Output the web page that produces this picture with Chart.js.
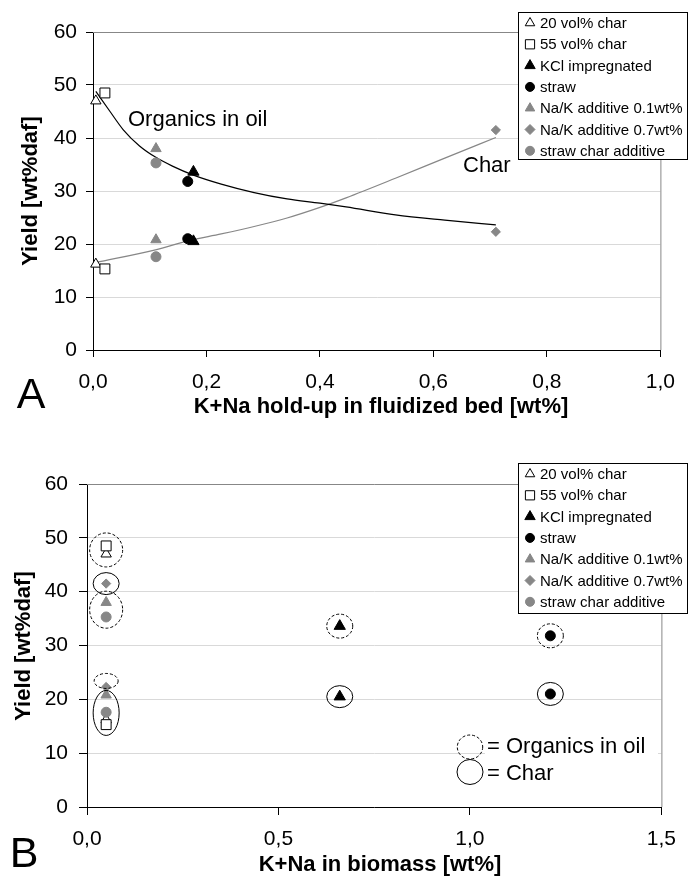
<!DOCTYPE html>
<html>
<head>
<meta charset="utf-8">
<script src="https://cdn.jsdelivr.net/npm/chart.js@4.4.0/dist/chart.umd.min.js"></script>
<style>
  html, body { margin: 0; padding: 0; background: #fff; }
  #wrap { position: relative; width: 688px; height: 879px; }
  #panelA { position: absolute; left: 0; top: 0; }
  #panelB { position: absolute; left: 0; top: 430px; }
</style>
</head>
<body>
<div id="wrap">
  <canvas id="panelA" width="688" height="430"></canvas>
  <canvas id="panelB" width="688" height="449"></canvas>
</div>
<script>
// experiment series (legend order)
const seriesNames = ['20 vol% char', '55 vol% char', 'KCl impregnated', 'straw',
  'Na/K additive 0.1wt%', 'Na/K additive 0.7wt%', 'straw char additive'];
// K+Na hold-up in the fluidized bed [wt%]
const holdUp = [0.005, 0.021, 0.177, 0.167, 0.111, 0.71, 0.111];
// K+Na in the biomass [wt%]
const biomassKNa = [0.05, 0.05, 0.66, 1.21, 0.05, 0.05, 0.05];
// yields [wt% daf]
const organicsYield = [47.0, 48.5, 33.6, 31.8, 38.0, 22.3, 35.3];
const charYield = [16.2, 15.3, 20.5, 21.0, 20.8, 41.5, 17.6];

// trend lines of panel A
const organicsFitX = [0.005, 0.03, 0.053, 0.082, 0.11, 0.14, 0.177, 0.226, 0.284, 0.342, 0.40, 0.446, 0.533, 0.62, 0.71];
const organicsFitY = [48.8, 45.0, 41.6, 38.5, 36.4, 34.7, 33.0, 31.3, 29.7, 28.5, 27.7, 27.0, 25.5, 24.5, 23.6];
const charFitX = [0.005, 0.11, 0.168, 0.226, 0.284, 0.342, 0.40, 0.446, 0.533, 0.62, 0.71];
const charFitY = [16.5, 18.9, 20.6, 21.9, 23.3, 24.9, 26.9, 28.7, 32.4, 36.2, 40.1];

// tick values
const xTicksA = [0, 0.2, 0.4, 0.6, 0.8, 1.0];
const xTicksB = [0, 0.5, 1.0, 1.5];
const yTicks = [0, 10, 20, 30, 40, 50, 60];

const FONT = '"Liberation Sans", Arial, Helvetica, sans-serif';
const GREY = '#878787';

const markerStyles = [
  { pointStyle: 'triangle', radius: 6, fill: '#fff', stroke: '#000' },
  { pointStyle: 'rect', radius: 7, fill: '#fff', stroke: '#000' },
  { pointStyle: 'triangle', radius: 6.5, fill: '#000', stroke: '#000' },
  { pointStyle: 'circle', radius: 5, fill: '#000', stroke: '#000' },
  { pointStyle: 'triangle', radius: 6, fill: GREY, stroke: GREY },
  { pointStyle: 'rectRot', radius: 4.6, fill: GREY, stroke: GREY },
  { pointStyle: 'circle', radius: 5, fill: GREY, stroke: GREY }
];

// rings in panel B, drawn around groups of points (series indices)
const ringsB = [
  { members: [0, 1], which: 'organics', rx: 16.5, ry: 17, dashed: true },
  { members: [4, 6], which: 'organics', rx: 16.5, ry: 18.5, dashed: true },
  { members: [5], which: 'organics', rx: 12, ry: 7.5, dashed: true, dy: -6 },
  { members: [2], which: 'organics', rx: 13, ry: 12, dashed: true },
  { members: [3], which: 'organics', rx: 13, ry: 12, dashed: true },
  { members: [5], which: 'char', rx: 13, ry: 11, dashed: false },
  { members: [0, 1, 4, 6], which: 'char', rx: 13, ry: 22.5, dashed: false },
  { members: [2], which: 'char', rx: 13, ry: 11, dashed: false },
  { members: [3], which: 'char', rx: 13, ry: 11.5, dashed: false }
];

function comma(v) { return v.toFixed(1).replace('.', ','); }

function markerSets(xs) {
  return seriesNames.map((name, i) => ({
    label: name,
    data: [{ x: xs[i], y: organicsYield[i] }, { x: xs[i], y: charYield[i] }],
    pointStyle: markerStyles[i].pointStyle,
    pointRadius: markerStyles[i].radius,
    pointHoverRadius: markerStyles[i].radius,
    backgroundColor: markerStyles[i].fill,
    borderColor: markerStyles[i].stroke,
    borderWidth: 1,
    showLine: false,
    clip: false,
    order: 10 - i
  }));
}

function fitSet(xs, ys, color, width) {
  return {
    label: '',
    data: xs.map((x, i) => ({ x: x, y: ys[i] })),
    showLine: true,
    pointRadius: 0,
    borderColor: color,
    borderWidth: width,
    cubicInterpolationMode: 'monotone',
    fill: false,
    clip: false,
    order: 100
  };
}

// frame, legend box, titles and notes around each panel
const decor = {
  id: 'decor',
  beforeDatasetsDraw(chart, args, o) {
    const a = chart.chartArea, ctx = chart.ctx;
    ctx.save();
    ctx.strokeStyle = GREY;
    ctx.lineWidth = 1;
    ctx.beginPath();
    ctx.moveTo(a.left, a.top + 0.5);
    ctx.lineTo(a.right + 0.5, a.top + 0.5);
    ctx.lineTo(a.right + 0.5, a.bottom);
    ctx.stroke();
    ctx.restore();
  },
  afterDatasetsDraw(chart, args, o) {
    const ctx = chart.ctx;
    const xs = chart.scales.x, ys = chart.scales.y;
    ctx.save();
    ctx.strokeStyle = '#000';
    ctx.lineWidth = 1;
    (o.rings || []).forEach(r => {
      const vals = r.members.map(i => r.which === 'organics' ? organicsYield[i] : charYield[i]);
      const mx = r.members.reduce((s, i) => s + o.xs[i], 0) / r.members.length;
      const my = vals.reduce((s, v) => s + v, 0) / vals.length;
      ctx.setLineDash(r.dashed ? [3, 2] : []);
      ctx.beginPath();
      ctx.ellipse(xs.getPixelForValue(mx), ys.getPixelForValue(my) + (r.dy || 0), r.rx, r.ry, 0, 0, Math.PI * 2);
      ctx.stroke();
    });
    ctx.restore();
  },
  afterDraw(chart, args, o) {
    const ctx = chart.ctx;
    ctx.save();
    ctx.fillStyle = '#000';

    // panel letter
    ctx.font = '43px ' + FONT;
    ctx.textAlign = 'center';
    ctx.textBaseline = 'alphabetic';
    ctx.fillText(o.letter, o.letterPos[0], o.letterPos[1]);

    // axis titles
    ctx.font = 'bold 22px ' + FONT;
    ctx.fillText(o.xTitle, o.xTitlePos[0], o.xTitlePos[1]);
    ctx.save();
    ctx.translate(o.yTitlePos[0], o.yTitlePos[1]);
    ctx.rotate(-Math.PI / 2);
    ctx.fillText('Yield [wt%daf]', 0, 0);
    ctx.restore();

    // notes in the plot
    ctx.font = '22px ' + FONT;
    ctx.textAlign = 'left';
    (o.notes || []).forEach(n => {
      if (n.clear) {
        ctx.fillStyle = '#fff';
        ctx.fillRect(n.clear[0], n.clear[1], n.clear[2], n.clear[3]);
        ctx.fillStyle = '#000';
      }
      ctx.fillText(n.text, n.x, n.y);
    });
    (o.keyRings || []).forEach(r => {
      ctx.strokeStyle = '#000';
      ctx.lineWidth = 1;
      ctx.setLineDash(r.dashed ? [3, 2] : []);
      ctx.beginPath();
      ctx.ellipse(r.x, r.y, r.rx, r.ry, 0, 0, Math.PI * 2);
      ctx.stroke();
    });
    ctx.setLineDash([]);

    // legend box
    const L = o.legend;
    ctx.fillStyle = '#fff';
    ctx.fillRect(L.x, L.y, L.w, L.h);
    ctx.strokeStyle = '#000';
    ctx.lineWidth = 1;
    ctx.strokeRect(L.x + 0.5, L.y + 0.5, L.w - 1, L.h - 1);
    ctx.font = '15px ' + FONT;
    ctx.textBaseline = 'middle';
    seriesNames.forEach((name, i) => {
      const cy = L.y + 11 + i * 21.3;
      const st = markerStyles[i];
      ctx.fillStyle = st.fill;
      ctx.strokeStyle = st.stroke;
      ctx.lineWidth = 1;
      Chart.helpers.drawPoint(ctx, {
        pointStyle: st.pointStyle, radius: st.pointStyle === 'rectRot' ? 5 : st.radius - 0.5,
        rotation: 0, borderWidth: 1
      }, L.x + 12, cy);
      ctx.fillStyle = '#000';
      ctx.fillText(name, L.x + 22, cy + 1);
    });
    ctx.restore();
  }
};

function panelConfig(p) {
  return {
    type: 'scatter',
    data: { datasets: p.datasets },
    plugins: [decor],
    options: {
      responsive: false,
      devicePixelRatio: 1,
      animation: false,
      events: [],
      layout: { padding: { top: p.padTop, right: p.padRight, left: 0, bottom: 0 } },
      plugins: {
        legend: { display: false },
        tooltip: { enabled: false },
        decor: p.decor
      },
      scales: {
        x: {
          type: 'linear',
          min: p.xTicks[0],
          max: p.xTicks[p.xTicks.length - 1],
          afterBuildTicks: s => { s.ticks = p.xTicks.map(v => ({ value: v })); },
          afterFit: s => { s.height = p.xAxisH; },
          ticks: {
            font: { family: FONT, size: 21 }, color: '#000',
            padding: p.xTickPad, maxRotation: 0, autoSkip: false,
            callback: v => comma(v)
          },
          grid: { drawOnChartArea: false, tickLength: p.tickLen, tickColor: '#000', tickWidth: 1 },
          border: { color: '#000', width: 1 }
        },
        y: {
          type: 'linear',
          min: 0,
          max: 60,
          afterBuildTicks: s => { s.ticks = yTicks.map(v => ({ value: v })); },
          afterFit: s => { s.width = p.yAxisW; },
          ticks: {
            font: { family: FONT, size: 21 }, color: '#000',
            padding: p.yTickPad, autoSkip: false,
            callback: v => String(v)
          },
          grid: { color: '#d9d9d9', lineWidth: 1, tickLength: p.tickLen, tickColor: '#000', tickWidth: 1 },
          border: { color: '#000', width: 1 }
        }
      }
    }
  };
}

new Chart(document.getElementById('panelA'), panelConfig({
  datasets: markerSets(holdUp).concat([
    fitSet(organicsFitX, organicsFitY, '#000', 1.2),
    fitSet(charFitX, charFitY, GREY, 1.2)
  ]),
  xTicks: xTicksA, padTop: 32, padRight: 19, xAxisH: 80, yAxisW: 93,
  tickLen: 7, xTickPad: 13, yTickPad: 9,
  decor: {
    letter: 'A', letterPos: [31, 408],
    xTitle: 'K+Na hold-up in fluidized bed [wt%]', xTitlePos: [381, 413],
    yTitlePos: [37, 191],
    xs: holdUp,
    notes: [
      { text: 'Organics in oil', x: 128, y: 126 },
      { text: 'Char', x: 463, y: 172 }
    ],
    legend: { x: 518, y: 12, w: 170, h: 148 }
  }
}));

new Chart(document.getElementById('panelB'), panelConfig({
  datasets: markerSets(biomassKNa),
  xTicks: xTicksB, padTop: 54, padRight: 16, xAxisH: 72, yAxisW: 87,
  tickLen: 8, xTickPad: 12, yTickPad: 11,
  decor: {
    letter: 'B', letterPos: [24, 437],
    xTitle: 'K+Na in biomass [wt%]', xTitlePos: [380, 441],
    yTitlePos: [30, 216],
    xs: biomassKNa,
    rings: ringsB,
    notes: [
      { text: '= Organics in oil', x: 487, y: 323, clear: [485, 306, 173, 22] },
      { text: '= Char', x: 487, y: 350 }
    ],
    keyRings: [
      { x: 470, y: 317, rx: 12.7, ry: 12, dashed: true },
      { x: 470, y: 342, rx: 13, ry: 12.5, dashed: false }
    ],
    legend: { x: 518, y: 33, w: 170, h: 151 }
  }
}));
</script>
</body>
</html>
